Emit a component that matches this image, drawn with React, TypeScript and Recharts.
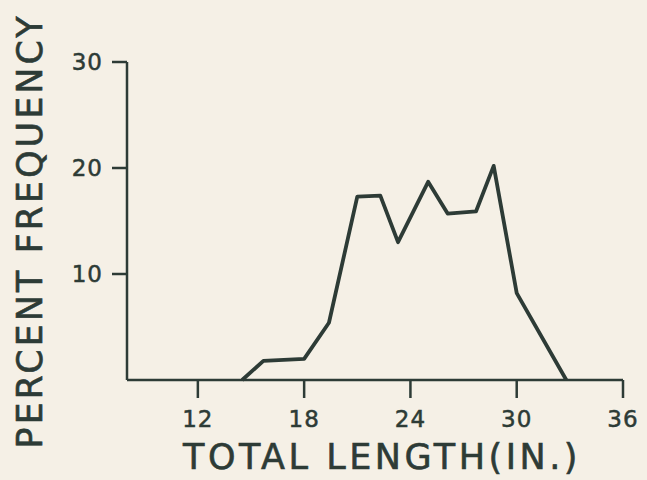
/**
 * Length-frequency polygon — percent frequency by total length (in.).
 * Old hand-lettered figure look: cream paper, dark green-gray ink.
 */

import { LineChart, Line, XAxis, YAxis } from 'recharts';

const INK = '#2d3b36';
const PAPER = '#f5f0e6';
const FONT = '"DejaVu Sans", "Open Sans", sans-serif';

// points
const lengths = [14.5, 15.7, 18.0, 19.4, 21.0, 22.3, 23.3, 25.0, 26.1, 27.7, 28.7, 30.0, 32.8];
const percents = [0, 1.8, 2.0, 5.4, 17.3, 17.4, 13.0, 18.7, 15.7, 15.9, 20.2, 8.2, 0];

const xTicks = [12, 18, 24, 30, 36];
const yTicks = [10, 20, 30];

const data = lengths.map((len, i) => ({ len, pct: percents[i] }));

function XTick(props: any) {
  const { x, y, payload } = props;
  return (
    <text x={x} y={y} dy="0.71em" textAnchor="middle" fill={INK} stroke={INK} strokeWidth={0.5}
      fontFamily={FONT} fontSize={23} letterSpacing={1}>
      {payload.value}
    </text>
  );
}

function YTick(props: any) {
  const { x, y, payload } = props;
  return (
    <text x={x} y={y} dy="0.36em" textAnchor="end" fill={INK} stroke={INK} strokeWidth={0.5}
      fontFamily={FONT} fontSize={23} letterSpacing={1}>
      {payload.value}
    </text>
  );
}

function YTitle(props: any) {
  const vb = props.viewBox || {};
  const cx = vb.x - 37;
  const cy = vb.y + vb.height / 2 + 10;
  return (
    <text
      x={cx}
      y={cy}
      transform={`rotate(-90, ${cx}, ${cy})`}
      textAnchor="middle"
      dominantBaseline="central"
      fill={INK}
      stroke={INK}
      strokeWidth={0.6}
      fontFamily={FONT}
      fontSize={35}
      letterSpacing={3}
    >
      PERCENT FREQUENCY
    </text>
  );
}

function XTitle(props: any) {
  const vb = props.viewBox || {};
  return (
    <text
      x={vb.x + vb.width / 2 + 7}
      y={vb.y + 89}
      textAnchor="middle"
      fill={INK}
      stroke={INK}
      strokeWidth={0.6}
      fontFamily={FONT}
      fontSize={35}
      letterSpacing={3.5}
    >
      TOTAL LENGTH(IN.)
    </text>
  );
}

export default function App() {
  return (
    <div style={{ position: 'absolute', left: 0, top: 0, width: 647, height: 480, background: PAPER }}>
      <LineChart
        width={647}
        height={480}
        data={data}
        margin={{ top: 62, right: 24, bottom: 10, left: 67 }}
      >
        <XAxis
          dataKey="len"
          type="number"
          domain={[8, 36]}
          ticks={xTicks}
          height={90}
          stroke={INK}
          strokeWidth={2.5}
          tickSize={18}
          tickMargin={13}
          tick={<XTick />}
          tickLine={{ stroke: INK, strokeWidth: 2.5 }}
          label={<XTitle />}
        />
        <YAxis
          type="number"
          domain={[0, 30]}
          ticks={yTicks}
          width={60}
          stroke={INK}
          strokeWidth={2.5}
          tickSize={15}
          tickMargin={9}
          tick={<YTick />}
          tickLine={{ stroke: INK, strokeWidth: 2.5 }}
          label={<YTitle />}
        />
        <Line
          type="linear"
          dataKey="pct"
          stroke={INK}
          strokeWidth={3.8}
          strokeLinejoin="round"
          dot={false}
          isAnimationActive={false}
        />
      </LineChart>
    </div>
  );
}
